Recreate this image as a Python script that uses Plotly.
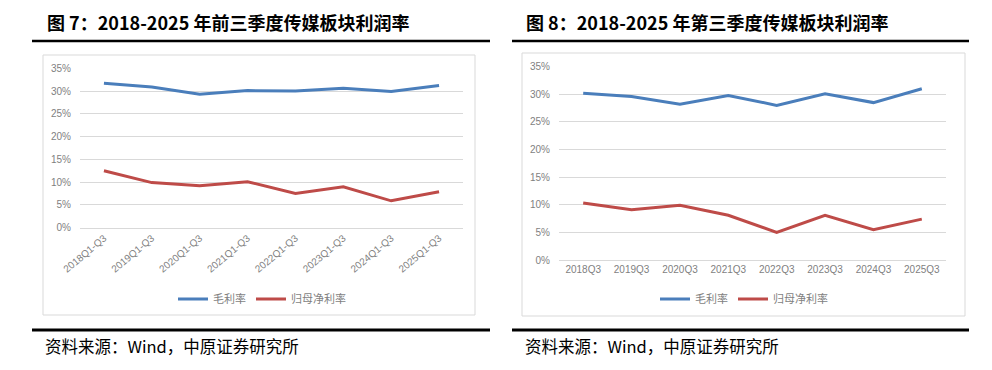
import plotly.graph_objects as go

# Page is 992x370; the browser body has an 8px margin, so the figure is 976x354 offset by 8px.
PAGE_W, PAGE_H = 992, 370
OFF = 8
W, H = PAGE_W - 2 * OFF, PAGE_H - 2 * OFF

cats_left = ["2018Q1-Q3", "2019Q1-Q3", "2020Q1-Q3", "2021Q1-Q3", "2022Q1-Q3", "2023Q1-Q3", "2024Q1-Q3", "2025Q1-Q3"]
gross_left = [0.317, 0.309, 0.293, 0.301, 0.300, 0.306, 0.299, 0.312]
net_left = [0.125, 0.099, 0.092, 0.101, 0.075, 0.090, 0.059, 0.079]

cats_right = ["2018Q3", "2019Q3", "2020Q3", "2021Q3", "2022Q3", "2023Q3", "2024Q3", "2025Q3"]
gross_right = [0.302, 0.296, 0.282, 0.298, 0.280, 0.301, 0.285, 0.310]
net_right = [0.103, 0.091, 0.099, 0.081, 0.050, 0.081, 0.055, 0.074]

series_names = ["毛利率", "归母净利率"]
colors = ["#4A7EBB", "#BE4B48"]

title_left = "图 7：2018-2025 年前三季度传媒板块利润率"
title_right = "图 8：2018-2025 年第三季度传媒板块利润率"
source_text = "资料来源：Wind，中原证券研究所"


def px(x):
    return (x - OFF) / W


def py(y):
    return 1 - (y - OFF) / H


fig = go.Figure()

for i, (name, vals) in enumerate(zip(series_names, [gross_left, net_left])):
    fig.add_trace(go.Scatter(x=cats_left, y=vals, name=name, mode="lines",
                             line=dict(color=colors[i], width=3),
                             xaxis="x", yaxis="y", legend="legend"))
for i, (name, vals) in enumerate(zip(series_names, [gross_right, net_right])):
    fig.add_trace(go.Scatter(x=cats_right, y=vals, name=name, mode="lines",
                             line=dict(color=colors[i], width=3),
                             xaxis="x2", yaxis="y2", legend="legend2"))

tickfont = dict(family="Liberation Sans, Arial", size=10, color="#7F7F7F")
yax = dict(range=[0, 0.35], tickvals=[0, 0.05, 0.10, 0.15, 0.20, 0.25, 0.30, 0.35],
           tickformat=".0%", showgrid=True, gridcolor="#D9D9D9", gridwidth=1,
           zeroline=False, showline=False, ticks="", tickfont=tickfont, fixedrange=True,
           automargin=False, ticklabelstandoff=8)
xax = dict(showgrid=False, zeroline=False, showline=True, linecolor="#D9D9D9",
           ticks="", tickfont=tickfont, fixedrange=True, automargin=False,
           range=[-0.5, 7.5])

legfont = dict(family="Noto Sans CJK SC", size=11, color="#7F7F7F")

fig.update_layout(
    width=W, height=H,
    margin=dict(l=0, r=0, t=0, b=0, autoexpand=False),
    paper_bgcolor="white", plot_bgcolor="white",
    xaxis=dict(xax, domain=[px(80), px(463)], anchor="y", tickangle=-40),
    yaxis=dict(yax, domain=[py(227.7), py(68.3)], anchor="x"),
    xaxis2=dict(xax, domain=[px(559), px(946)], anchor="y2", tickangle=0),
    yaxis2=dict(yax, domain=[py(260), py(66.7)], anchor="x2"),
    legend=dict(orientation="h", x=px(262), y=py(299), xanchor="center", yanchor="middle",
                font=legfont, bgcolor="rgba(0,0,0,0)"),
    legend2=dict(orientation="h", x=px(744), y=py(299), xanchor="center", yanchor="middle",
                 font=legfont, bgcolor="rgba(0,0,0,0)"),
    showlegend=True,
)

shapes = []
# chart frames
shapes.append(dict(type="rect", xref="paper", yref="paper", x0=px(43), x1=px(475), y0=py(315), y1=py(55),
                   line=dict(color="#D9D9D9", width=1)))
shapes.append(dict(type="rect", xref="paper", yref="paper", x0=px(522), x1=px(965), y0=py(316), y1=py(53),
                   line=dict(color="#D9D9D9", width=1)))
# title rules and bottom rules
for x0, x1 in [(32, 490), (512, 969)]:
    shapes.append(dict(type="line", xref="paper", yref="paper", x0=px(x0), x1=px(x1), y0=py(41), y1=py(41),
                       line=dict(color="black", width=2.5)))
    shapes.append(dict(type="line", xref="paper", yref="paper", x0=px(x0), x1=px(x1), y0=py(330), y1=py(330),
                       line=dict(color="black", width=3)))
fig.update_layout(shapes=shapes)

titlefont = dict(family="Noto Sans CJK SC", size=18, color="black")
srcfont = dict(family="Noto Sans CJK SC", size=16.5, color="black")
annotations = [
    dict(text="<b>" + title_left + "</b>", x=px(45), y=py(22), xref="paper", yref="paper",
         xanchor="left", yanchor="middle", showarrow=False, font=titlefont),
    dict(text="<b>" + title_right + "</b>", x=px(524), y=py(22), xref="paper", yref="paper",
         xanchor="left", yanchor="middle", showarrow=False, font=titlefont),
    dict(text=source_text, x=px(43), y=py(346), xref="paper", yref="paper",
         xanchor="left", yanchor="middle", showarrow=False, font=srcfont),
    dict(text=source_text, x=px(523), y=py(346), xref="paper", yref="paper",
         xanchor="left", yanchor="middle", showarrow=False, font=srcfont),
]
fig.update_layout(annotations=annotations)

fig.write_html("out.html", config={"displayModeBar": False})
